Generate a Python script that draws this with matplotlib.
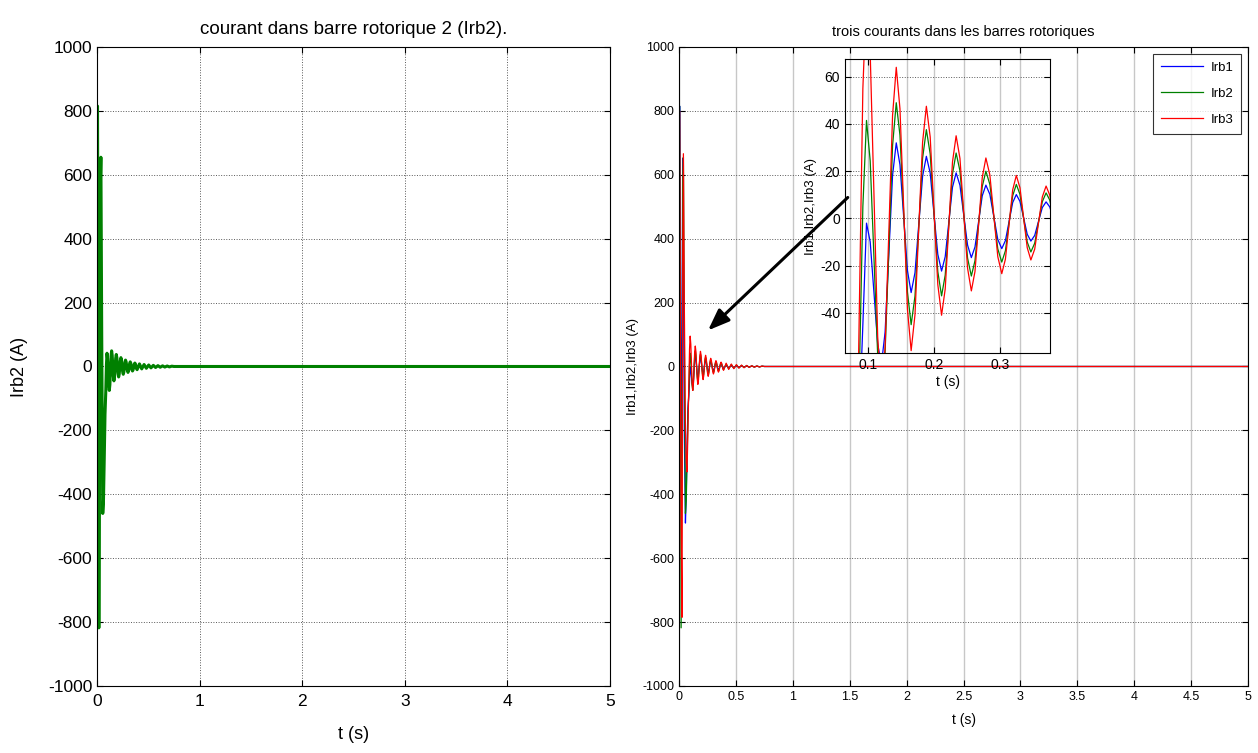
import matplotlib.pyplot as plt
import numpy as np

plt.rcParams['font.family'] = ['Liberation Sans', 'DejaVu Sans']
plt.rcParams['axes.unicode_minus'] = False

# time samples (s)
t = [0, 0.005, 0.012, 0.018, 0.026, 0.032, 0.038, 0.046, 0.056, 0.063, 0.07, 0.078, 0.086, 0.092,
     0.0975, 0.1031, 0.1088, 0.1144, 0.120, 0.1256, 0.1313, 0.1369, 0.1425, 0.1481, 0.1538, 0.1594,
     0.165, 0.1708, 0.1765, 0.1823, 0.188, 0.1938, 0.1995, 0.2053, 0.211, 0.2165, 0.222, 0.2275,
     0.233, 0.2388, 0.2445, 0.2503, 0.256, 0.2615, 0.267, 0.2725, 0.278, 0.284, 0.29, 0.296,
     0.302, 0.3075, 0.313, 0.3185, 0.324, 0.3295, 0.335, 0.3405, 0.346, 0.3518, 0.3575, 0.3633,
     0.369, 0.3745, 0.38, 0.3855, 0.391,
     0.414, 0.436, 0.459, 0.481, 0.504, 0.526, 0.549, 0.571, 0.594, 0.616, 0.639, 0.661, 0.684,
     0.706, 0.729, 0.75, 5.0]

irb1 = [0, 815, 300, -300, 100, 651, 350, -200, -490, -400, -250, -130, -90, -45,
        -2, -9.9, -31.5, -53.1, -62, -48.2, -15, 18.2, 32, 22.7, 0.3, -22.1,
        -31.4, -23, -2.6, 17.8, 26.3, 19.2, 2, -15.2, -22.3, -16.2, -1.5, 13.2,
        19.3, 14, 1.4, -11.3, -16.6, -12.1, -1.3, 9.6, 14.1, 10.2, 0.7, -8.9,
        -12.8, -9.4, -1.4, 6.7, 10.1, 7.2, 0.3, -6.7, -9.6, -7.2, -1.3, 4.6,
        7, 4.9, 0, -4.9, -7,
        5.3, -5.2, 4, -3.9, 3, -2.9, 2.3, -2.2, 1.7, -1.6, 1.3, -1.2, 1,
        -0.9, 0.7, 0, 0]

irb2 = [0, 815, 0, -818, -200, 560, 655, 100, -460, -420, -300, -150, -75, 5,
        41.5, 24.4, -16.8, -57.9, -75, -56.8, -13, 30.8, 49, 35.2, 2, -31.2,
        -45, -32.9, -3.7, 25.5, 37.6, 27.3, 2.4, -22.5, -32.8, -24, -2.6, 18.8,
        27.7, 20.1, 1.7, -16.8, -24.4, -17.9, -2.2, 13.5, 20, 14.4, 0.8, -12.9,
        -18.5, -13.7, -2.1, 9.6, 14.4, 10.2, 0.1, -10, -14.2, -10.5, -1.7, 7.1,
        10.8, 7.8, 0.4, -7, -10,
        8.2, -7.6, 6.2, -5.7, 4.7, -4.3, 3.5, -3.2, 2.7, -2.4, 2, -1.8, 1.5,
        -1.3, 1, 0, 0]

irb3 = [0, 800, 0, -500, -785, 300, 666, 200, -200, -300, -330, -200, -50, 55,
        95, 70, 10, -50, -75, -54.6, -5.5, 43.6, 64, 46.4, 4, -38.4,
        -56, -40.8, -4.3, 32.3, 47.5, 34.5, 3.3, -28, -41, -29.9, -3, 23.9,
        35, 25.4, 2.2, -21.1, -30.7, -22.5, -2.6, 17.3, 25.6, 18.4, 1.1, -16.2,
        -23.4, -17.3, -2.6, 12.1, 18.2, 13, 0.3, -12.4, -17.6, -13, -2, 9.1,
        13.7, 9.9, 0.9, -8.2, -12,
        10.3, -9.2, 7.7, -6.9, 5.8, -5.2, 4.3, -3.9, 3.3, -2.9, 2.4, -2.2, 1.8,
        -1.6, 1.3, 0, 0]

names = ['Irb1', 'Irb2', 'Irb3']
colors = ['#0000ff', '#008000', '#ff0000']

fig = plt.figure(figsize=(12.58, 7.53), dpi=100)


def matlab_axes(ax, fs):
    ax.tick_params(direction='in', top=True, right=True, labelsize=fs, length=4, width=0.8)
    for s in ax.spines.values():
        s.set_linewidth(0.8)
        s.set_color('black')


# left : Irb2 alone
ax1 = fig.add_axes([0.0771, 0.089, 0.4078, 0.8486])
ax1.plot(t, irb2, color='#008000', lw=2.2)
ax1.set_xlim(0, 5)
ax1.set_ylim(-1000, 1000)
ax1.set_xticks(np.arange(0, 6, 1))
ax1.set_yticks(np.arange(-1000, 1001, 200))
ax1.grid(True, ls=':', color='0.35', lw=0.7)
matlab_axes(ax1, 12.5)
ax1.tick_params(axis='x', pad=6)
ax1.set_title('courant dans barre rotorique 2 (Irb2).', fontsize=13.5, pad=9)
ax1.set_xlabel('t (s)', fontsize=13, labelpad=12)
ax1.set_ylabel('Irb2 (A)', fontsize=13, labelpad=14)

# right : three currents
ax2 = fig.add_axes([0.5398, 0.089, 0.4523, 0.8486])
for y, n, c in zip([irb1, irb2, irb3], names, colors):
    ax2.plot(t, y, color=c, lw=0.9, label=n)
ax2.set_xlim(0, 5)
ax2.set_ylim(-1000, 1000)
ax2.set_xticks(np.arange(0, 5.01, 0.5))
ax2.set_xticklabels(['0', '0.5', '1', '1.5', '2', '2.5', '3', '3.5', '4', '4.5', '5'])
ax2.set_yticks(np.arange(-1000, 1001, 200))
ax2.yaxis.grid(True, ls=':', color='0.35', lw=0.7)
ax2.xaxis.grid(True, ls='-', color='0.78', lw=1.0)
matlab_axes(ax2, 9)
ax2.set_title('trois courants dans les barres rotoriques', fontsize=10.5, pad=8)
ax2.set_xlabel('t (s)', fontsize=10, labelpad=7)
ax2.set_ylabel('Irb1,Irb2,Irb3 (A)', fontsize=9.5, labelpad=2)
leg = ax2.legend(loc='upper right', fontsize=9.5, frameon=True, fancybox=False,
                 handlelength=3.2, borderaxespad=0.5, labelspacing=1.05,
                 borderpad=0.6, handletextpad=0.6)
leg.get_frame().set_edgecolor('black')
leg.get_frame().set_linewidth(0.8)

ax2.annotate('', xy=(0.237, 107), xytext=(1.5, 535),
             arrowprops=dict(arrowstyle='-|>,head_length=1.3,head_width=0.5',
                             color='black', lw=2.2))

# zoomed inset
ax3 = fig.add_axes([0.6717, 0.5312, 0.163, 0.3904])
ax3.patch.set_alpha(0)
for y, c in zip([irb1, irb2, irb3], colors):
    ax3.plot(t, y, color=c, lw=0.9)
ax3.set_xlim(0.065, 0.375)
ax3.set_ylim(-57, 67.5)
ax3.set_xticks([0.1, 0.2, 0.3])
ax3.set_yticks(np.arange(-40, 61, 20))
ax3.yaxis.grid(True, ls=':', color='0.35', lw=0.7)
ax3.xaxis.grid(True, ls='-', color='0.78', lw=1.0)
matlab_axes(ax3, 10)
ax3.set_xlabel('t (s)', fontsize=10, labelpad=2)
ax3.set_ylabel('Irb1,Irb2,Irb3 (A)', fontsize=9.5, labelpad=2)

fig.savefig('out.png', dpi=100)
plt.close(fig)
